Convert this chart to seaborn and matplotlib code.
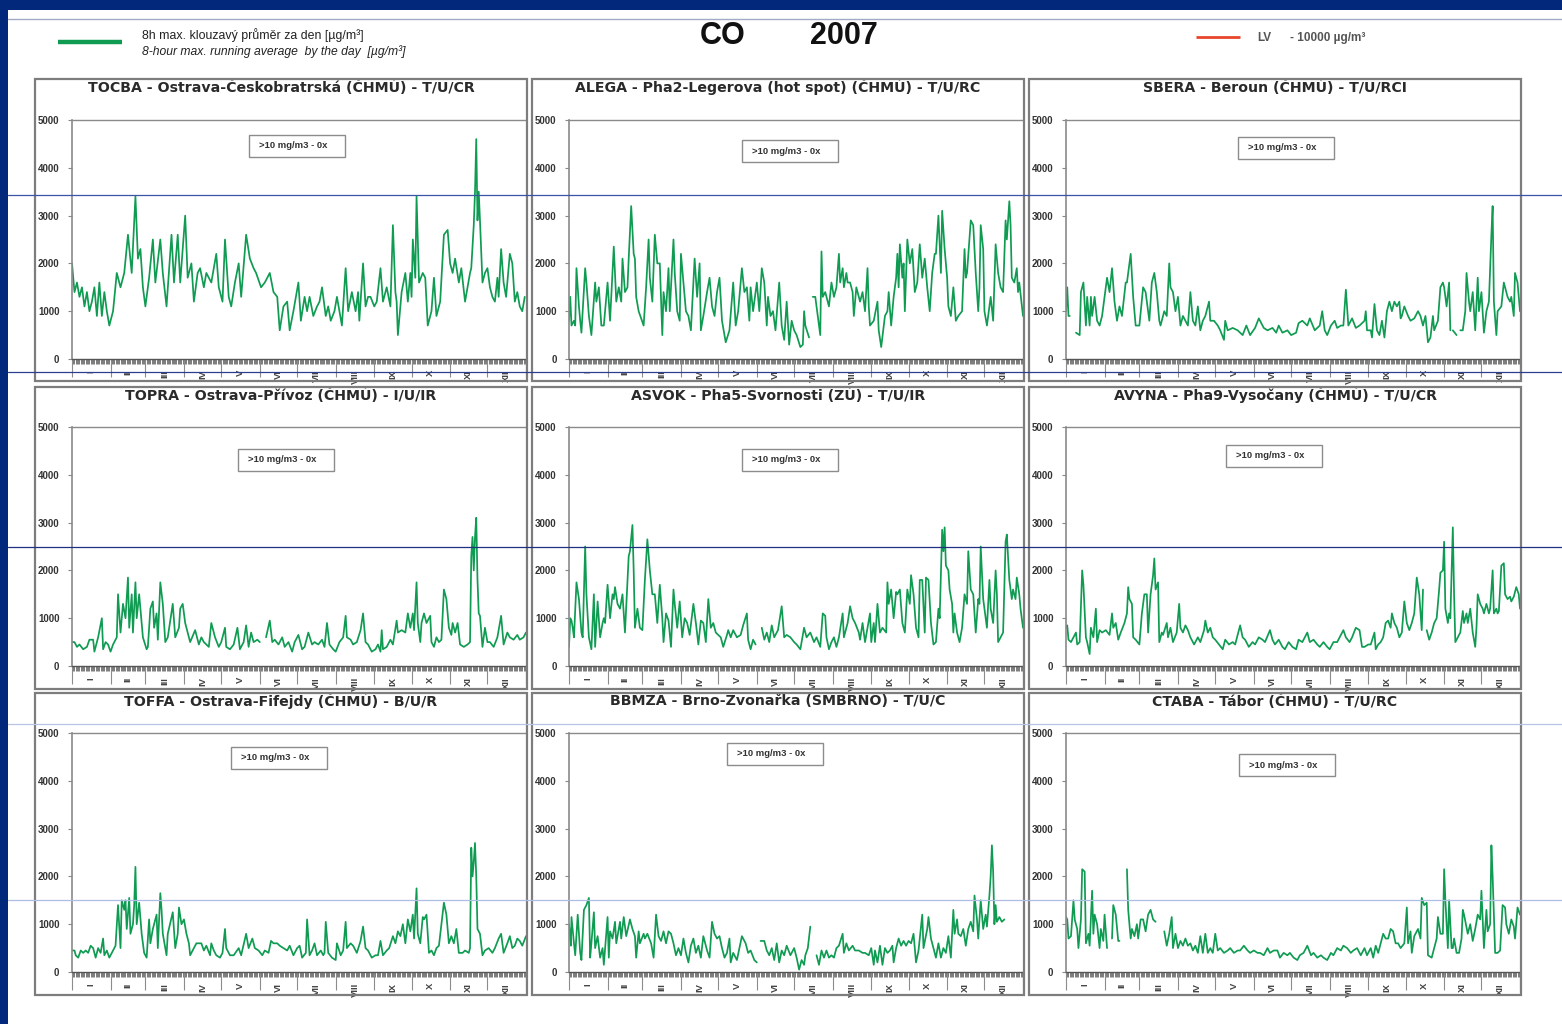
import numpy as np
import pandas as pd
import matplotlib
matplotlib.use("Agg")
import matplotlib.pyplot as plt
from matplotlib.patches import Rectangle
from matplotlib.lines import Line2D
from matplotlib.ticker import FixedLocator, NullFormatter
import seaborn as sns

sns.set_style("white")
plt.rcParams["font.family"] = ["Liberation Sans", "DejaVu Sans"]

# Daily 8h max running average of CO, 2007, mg/m3 (None = missing data)
TOCBA = [(0,2.0),(2,1.4),(4,1.6),(6,1.3),(8,1.5),(10,1.1),(12,1.4),(14,1.0),(16,1.2),(18,1.5),(20,0.9),(22,1.6),(24,0.9),(26,1.4),(28,1.0),(30,0.7),(33,1.0),(36,1.8),(39,1.5),(42,1.8),(45,2.6),(48,1.8),(51,3.4),(53,2.1),(55,2.3),(57,1.5),(59,1.1),(62,1.7),(65,2.5),(67,1.6),(71,2.5),(73,1.8),(76,1.1),(80,2.6),(82,1.6),(85,2.6),(87,1.6),(91,3.0),(93,1.7),(96,2.0),(98,1.2),(101,1.8),(103,1.9),(106,1.5),(108,1.8),(112,1.6),(116,2.2),(118,1.5),(121,1.2),(123,2.5),(126,1.3),(128,1.1),(131,1.6),(134,2.0),(136,1.3),(140,2.6),(143,2.1),(146,1.9),(148,1.8),(152,1.5),(155,1.6),(159,1.8),(162,1.4),(165,1.3),(167,0.6),(170,1.1),(173,1.2),(175,0.6),(178,1.0),(182,1.6),(184,0.8),(187,1.3),(189,1.0),(191,1.3),(194,0.9),(197,1.1),(199,1.2),(201,1.5),(204,0.9),(206,1.1),(208,0.8),(211,1.0),(213,1.3),(217,0.7),(220,1.9),(222,1.0),(225,1.4),(228,1.0),(230,1.4),(231,0.8),(234,2.0),(236,1.1),(238,1.3),(240,1.3),(243,1.1),(245,1.2),(248,1.9),(250,1.2),(253,1.5),(256,1.1),(258,2.8),(260,1.4),(261,1.2),(262,0.5),(265,1.4),(268,1.8),(270,1.2),(272,1.8),(273,1.3),(274,2.5),(276,1.7),(277,3.4),(279,1.6),(282,1.8),(284,1.7),(286,0.7),(289,1.0),(291,1.7),(293,0.9),(296,1.2),(299,2.6),(302,2.7),(304,2.0),(306,1.8),(308,2.1),(311,1.6),(313,1.9),(316,1.2),(318,1.5),(320,1.8),(321,1.9),(323,2.8),(324,3.5),(325,4.6),(326,2.9),(327,3.5),(328,2.9),(330,1.6),(332,1.8),(334,1.9),(336,1.5),(338,1.3),(340,1.2),(342,1.7),(343,1.3),(345,2.3),(347,1.6),(349,1.3),(352,2.2),(354,2.0),(356,1.2),(358,1.4),(360,1.1),(362,1.0),(364,1.3)]

ALEGA = [(0,0.8),(1,1.3),(2,0.7),(4,0.8),(5,0.7),(6,1.9),(8,1.1),(9,0.8),(10,0.55),(13,1.9),(14,1.6),(16,0.9),(18,0.5),(21,1.6),(22,1.2),(24,1.5),(26,0.7),(28,0.7),(31,1.6),(33,0.8),(36,2.35),(38,1.2),(40,1.5),(42,1.2),(43,2.1),(45,1.4),(47,1.5),(48,2.1),(50,3.2),(52,2.2),(53,2.1),(54,1.3),(56,1.0),(60,0.7),(62,1.5),(63,2.0),(64,2.5),(65,1.7),(67,1.2),(69,2.6),(71,2.0),(73,2.0),(75,0.5),(76,1.4),(78,1.0),(80,1.9),(81,1.0),(84,2.5),(85,1.8),(87,1.0),(89,0.8),(90,2.2),(92,1.6),(94,1.0),(96,0.9),(98,0.6),(101,2.1),(103,1.3),(105,2.0),(106,0.6),(108,0.9),(111,1.4),(113,1.7),(115,1.1),(117,0.9),(119,1.4),(121,1.7),(123,0.8),(126,0.35),(129,0.6),(132,1.6),(134,0.7),(136,1.0),(139,1.9),(141,1.4),(143,1.5),(145,0.8),(146,1.5),(148,1.0),(151,1.6),(153,1.0),(155,1.9),(157,1.6),(159,0.7),(160,1.3),(162,0.9),(164,1.0),(166,0.6),(169,1.6),(171,0.7),(173,0.4),(175,1.2),(177,0.3),(179,0.8),(181,0.6),(183,0.5),(186,0.25),(188,0.3),(189,1.0),(190,0.7),(193,0.45),(194,None),(196,1.3),(198,1.3),(200,0.9),(202,0.5),(203,2.25),(204,1.3),(206,1.4),(209,1.1),(211,1.6),(213,1.3),(215,1.5),(217,2.2),(218,1.6),(220,1.9),(221,1.5),(223,1.8),(224,1.6),(226,1.6),(228,1.4),(229,0.9),(231,1.5),(233,1.3),(234,1.2),(236,1.4),(238,1.0),(240,1.9),(241,1.1),(242,0.7),(245,0.8),(248,1.2),(249,0.6),(251,0.25),(254,0.9),(256,1.0),(257,1.4),(259,0.7),(261,1.3),(263,1.7),(264,2.2),(265,1.5),(266,2.4),(268,1.7),(269,2.0),(270,1.0),(272,2.5),(274,2.0),(276,2.3),(278,1.4),(280,1.6),(282,2.4),(284,1.7),(286,2.1),(288,1.5),(290,1.0),(292,1.8),(294,2.2),(295,2.2),(297,3.0),(299,1.8),(300,3.1),(302,2.3),(304,1.7),(305,1.1),(307,0.9),(309,1.5),(311,0.8),(313,0.9),(316,1.0),(318,2.3),(319,1.7),(320,1.8),(323,2.9),(325,2.8),(327,1.8),(329,1.0),(330,1.5),(331,2.8),(333,2.3),(334,1.0),(336,0.7),(339,1.3),(341,0.8),(343,2.4),(345,1.8),(347,1.5),(349,1.4),(351,2.9),(352,2.5),(354,3.3),(355,2.8),(356,1.7),(358,1.6),(360,1.9),(361,1.4),(362,1.6),(365,0.9)]

SBERA = [(0,1.0),(1,1.5),(2,0.9),(3,0.9),(4,None),(8,0.55),(11,0.5),(12,1.4),(14,1.6),(16,0.7),(17,1.3),(19,0.7),(20,1.3),(21,0.9),(23,1.3),(25,0.8),(27,0.7),(29,0.9),(33,1.7),(35,1.4),(37,1.9),(39,1.2),(41,0.8),(43,1.1),(45,0.9),(48,1.6),(49,1.6),(52,2.2),(54,1.3),(56,0.7),(59,0.7),(62,1.5),(64,1.4),(67,0.8),(69,1.6),(71,1.8),(73,1.4),(75,0.8),(76,0.7),(79,1.0),(81,0.9),(83,2.0),(84,1.5),(86,1.4),(88,1.0),(90,1.3),(92,0.7),(94,0.9),(96,0.8),(98,0.7),(100,1.4),(102,0.8),(104,0.7),(106,1.1),(108,0.6),(110,0.8),(112,0.9),(115,1.2),(116,0.8),(119,0.8),(122,0.7),(124,0.6),(127,0.4),(128,0.8),(130,0.6),(134,0.65),(138,0.6),(142,0.5),(145,0.7),(148,0.5),(152,0.65),(155,0.85),(159,0.65),(162,0.6),(166,0.65),(169,0.55),(171,0.7),(174,0.55),(178,0.6),(181,0.5),(185,0.55),(187,0.75),(190,0.8),(194,0.7),(196,0.85),(200,0.6),(204,0.7),(206,1.0),(208,0.6),(210,0.5),(213,0.7),(216,0.8),(218,0.65),(221,0.7),(223,0.7),(225,1.45),(227,0.7),(230,0.85),(233,0.65),(236,0.7),(240,0.8),(241,1.0),(242,0.6),(245,0.6),(246,0.45),(248,1.15),(250,0.6),(252,0.5),(254,0.8),(256,0.45),(258,1.0),(260,1.2),(262,1.0),(264,1.2),(266,1.1),(268,1.2),(269,0.85),(270,0.9),(272,1.1),(275,0.9),(277,0.8),(280,0.85),(283,1.0),(285,0.9),(287,0.7),(289,0.9),(291,0.35),(293,0.45),(295,0.9),(296,0.6),(299,0.8),(301,1.5),(303,1.6),(304,1.5),(306,1.1),(308,1.6),(309,0.6),(310,None),(311,0.6),(314,0.5),(315,None),(317,0.6),(319,0.6),(321,1.0),(322,1.8),(324,1.2),(325,1.0),(327,1.4),(329,0.6),(331,1.7),(332,1.0),(334,1.4),(336,0.55),(338,1.0),(340,1.2),(342,2.6),(343,3.2),(344,1.2),(346,0.5),(347,1.0),(350,1.1),(352,1.6),(354,1.4),(355,1.3),(357,1.2),(358,1.3),(360,0.9),(361,1.8),(363,1.6),(365,1.0)]

TOPRA = [(0,0.5),(2,0.5),(4,0.4),(6,0.45),(9,0.35),(12,0.4),(14,0.55),(17,0.55),(18,0.3),(21,0.6),(24,1.0),(25,0.35),(27,0.5),(29,0.45),(31,0.3),(33,0.45),(36,0.6),(37,1.5),(39,0.7),(41,1.3),(43,1.0),(45,1.85),(46,0.8),(48,1.5),(49,0.7),(51,1.75),(52,1.0),(54,1.5),(55,1.2),(57,0.6),(60,0.35),(61,0.4),(63,1.2),(65,1.35),(66,0.8),(68,1.1),(69,0.55),(71,1.75),(73,1.3),(75,0.5),(77,0.6),(81,1.3),(83,0.6),(86,0.8),(87,1.2),(89,1.3),(91,0.9),(93,0.7),(95,0.5),(99,0.75),(102,0.45),(104,0.6),(106,0.5),(110,0.4),(112,0.9),(115,0.6),(118,0.4),(120,0.5),(123,0.8),(124,0.4),(127,0.35),(130,0.45),(133,0.8),(135,0.35),(138,0.5),(140,0.85),(142,0.4),(144,0.7),(146,0.5),(149,0.55),(151,0.5),(152,None),(156,0.6),(159,0.95),(161,0.5),(163,0.55),(166,0.45),(169,0.6),(171,0.4),(174,0.5),(177,0.3),(179,0.5),(182,0.65),(185,0.35),(187,0.4),(190,0.7),(193,0.45),(195,0.5),(198,0.45),(201,0.55),(203,0.4),(205,0.9),(207,0.45),(210,0.35),(212,0.3),(215,0.5),(218,0.6),(220,1.05),(221,0.6),(224,0.55),(226,0.45),(229,0.5),(232,0.75),(234,1.1),(236,0.5),(238,0.45),(241,0.3),(244,0.35),(246,0.45),(248,0.3),(249,0.75),(250,0.35),(253,0.4),(256,0.55),(258,0.45),(261,0.95),(262,0.7),(265,0.75),(268,0.7),(270,1.1),(272,0.8),(274,1.1),(275,0.75),(277,1.75),(278,0.9),(280,0.5),(281,0.9),(283,1.1),(285,0.9),(288,1.05),(289,0.5),(291,0.4),(293,0.6),(295,0.5),(297,0.55),(299,1.6),(301,1.4),(303,0.8),(305,0.65),(306,0.9),(308,0.7),(310,0.9),(312,0.45),(315,0.4),(318,0.45),(320,0.5),(321,2.3),(322,2.7),(323,2.0),(324,2.7),(325,3.1),(326,1.8),(327,1.1),(328,1.05),(330,0.4),(332,0.8),(334,0.5),(336,0.5),(339,0.4),(342,0.6),(345,1.05),(347,0.45),(350,0.7),(352,0.6),(355,0.55),(358,0.65),(360,0.55),(363,0.6),(365,0.7)]

ASVOK = [(0,0.4),(1,1.0),(2,0.95),(3,0.8),(4,0.6),(6,1.75),(8,1.4),(10,0.7),(11,0.6),(13,2.5),(14,1.5),(16,0.6),(18,0.35),(20,1.5),(21,0.4),(23,1.35),(25,0.6),(27,0.9),(28,1.0),(29,0.9),(31,1.7),(33,1.0),(35,1.5),(36,1.4),(37,1.65),(39,1.3),(41,1.2),(43,1.5),(45,0.7),(48,2.3),(49,2.4),(51,2.95),(52,2.0),(53,0.8),(55,1.2),(57,0.8),(59,0.75),(61,1.8),(63,2.65),(65,2.0),(67,1.5),(69,1.5),(71,0.9),(73,1.7),(75,1.0),(76,0.5),(78,1.1),(80,0.95),(82,0.4),(84,1.6),(85,1.3),(87,0.8),(89,1.35),(91,0.6),(93,1.0),(95,0.9),(97,0.65),(100,1.3),(102,0.9),(104,0.45),(106,0.95),(108,0.9),(110,0.5),(112,1.4),(114,0.8),(116,0.9),(118,0.7),(122,0.6),(124,0.4),(127,0.65),(128,0.75),(130,0.6),(132,0.75),(135,0.6),(138,0.65),(140,0.85),(143,1.1),(144,0.55),(146,0.35),(148,0.55),(150,0.45),(151,None),(155,0.8),(157,0.55),(159,0.7),(161,0.5),(163,0.85),(165,0.6),(168,0.75),(171,1.25),(173,0.6),(175,0.65),(178,0.6),(181,0.5),(183,0.45),(186,0.35),(189,0.8),(191,0.6),(194,0.7),(197,0.5),(199,0.6),(202,0.4),(204,1.1),(206,1.05),(207,0.6),(209,0.35),(211,0.5),(213,0.6),(215,0.4),(217,0.6),(220,1.1),(221,0.6),(224,0.9),(226,1.25),(228,1.0),(230,0.9),(233,0.7),(234,0.55),(236,0.9),(238,0.5),(240,0.8),(242,1.1),(243,0.5),(245,0.9),(246,0.5),(248,1.3),(250,0.7),(252,0.8),(255,0.7),(256,1.75),(257,1.3),(259,1.6),(261,1.0),(263,1.55),(264,1.5),(266,1.6),(268,0.9),(270,0.7),(272,1.6),(274,1.3),(275,1.9),(277,1.5),(279,0.8),(281,0.6),(282,1.8),(284,1.8),(286,0.7),(287,1.85),(289,1.8),(291,0.9),(293,0.45),(295,0.5),(297,1.2),(298,1.0),(300,2.85),(301,2.4),(302,2.9),(303,2.1),(305,2.0),(306,1.6),(308,1.3),(309,0.7),(310,1.1),(312,0.7),(314,0.5),(316,0.8),(318,1.5),(320,1.3),(321,2.4),(323,1.6),(325,1.5),(327,0.7),(329,1.4),(330,1.3),(331,2.5),(333,1.4),(335,1.0),(336,0.8),(338,1.8),(339,1.2),(341,0.9),(343,2.0),(344,1.5),(345,0.5),(347,0.6),(349,0.7),(351,2.6),(352,2.75),(354,1.8),(356,1.4),(357,1.6),(359,1.4),(360,1.85),(362,1.5),(363,1.2),(365,0.8)]

AVYNA = [(0,0.8),(1,0.85),(2,0.55),(4,0.5),(6,0.6),(8,0.7),(9,0.45),(11,0.5),(13,2.0),(14,1.7),(16,0.6),(17,0.5),(19,0.25),(20,0.8),(22,0.6),(24,1.2),(25,0.5),(27,0.75),(29,0.7),(32,0.75),(35,0.65),(37,1.1),(38,0.8),(40,0.9),(42,0.55),(44,0.7),(47,0.9),(49,1.1),(50,1.65),(51,1.4),(53,1.3),(54,0.6),(56,0.55),(59,0.45),(61,1.1),(63,1.5),(65,1.5),(66,0.7),(68,1.5),(70,1.9),(71,2.25),(72,1.6),(74,1.75),(75,0.5),(77,0.7),(78,0.65),(81,0.9),(82,0.6),(84,0.8),(86,0.5),(89,0.7),(91,1.3),(92,0.8),(94,0.7),(96,0.85),(98,0.75),(100,0.6),(103,0.45),(106,0.6),(108,0.5),(111,0.75),(112,0.95),(114,0.7),(116,0.8),(118,0.6),(120,0.55),(123,0.45),(126,0.35),(128,0.55),(131,0.45),(134,0.5),(136,0.45),(140,0.85),(142,0.6),(144,0.55),(147,0.4),(150,0.5),(152,0.45),(155,0.6),(158,0.55),(160,0.5),(164,0.75),(166,0.55),(168,0.45),(171,0.55),(174,0.4),(176,0.35),(179,0.5),(182,0.4),(185,0.35),(187,0.55),(190,0.5),(194,0.7),(196,0.5),(199,0.55),(202,0.45),(204,0.4),(207,0.5),(210,0.4),(212,0.35),(215,0.5),(218,0.5),(220,0.6),(223,0.75),(225,0.6),(228,0.5),(230,0.6),(233,0.8),(236,0.75),(238,0.4),(240,0.4),(243,0.45),(245,0.45),(248,0.7),(249,0.35),(251,0.45),(253,0.5),(255,0.6),(257,0.9),(259,0.95),(261,0.8),(262,1.1),(264,0.9),(266,0.8),(268,0.6),(270,0.7),(272,1.35),(274,0.9),(276,0.75),(278,0.9),(280,1.1),(282,1.85),(284,1.5),(286,0.75),(287,1.6),(288,None),(290,0.75),(292,0.55),(294,0.7),(296,0.9),(298,1.0),(300,1.6),(301,1.95),(303,2.0),(304,2.6),(305,1.2),(307,0.9),(308,1.1),(309,1.0),(311,2.9),(312,1.5),(313,0.5),(315,0.6),(317,0.7),(319,1.15),(320,0.9),(322,1.1),(323,0.9),(325,1.2),(327,0.7),(329,0.4),(330,0.8),(331,1.5),(333,1.3),(335,1.2),(336,1.1),(338,1.3),(340,1.1),(341,1.2),(343,2.0),(344,1.1),(346,1.2),(347,1.1),(348,1.15),(350,2.1),(352,2.15),(353,1.5),(355,1.4),(357,1.45),(358,1.35),(360,1.45),(362,1.65),(364,1.5),(365,1.2)]

TOFFA = [(0,0.45),(2,0.45),(3,0.35),(5,0.3),(7,0.45),(9,0.4),(11,0.45),(13,0.4),(15,0.55),(17,0.5),(19,0.3),(21,0.5),(23,0.4),(25,0.7),(26,0.35),(28,0.45),(30,0.3),(33,0.45),(35,0.55),(37,1.4),(39,0.5),(40,1.5),(42,1.3),(43,1.5),(44,0.9),(46,1.55),(47,0.8),(49,1.0),(50,1.4),(51,2.2),(52,1.0),(54,1.45),(56,0.8),(58,0.4),(60,0.3),(62,1.1),(63,0.6),(65,0.9),(68,1.2),(69,0.5),(71,1.65),(72,1.3),(73,0.8),(76,0.35),(77,0.8),(81,1.25),(83,0.5),(85,0.8),(86,1.35),(88,1.0),(90,1.1),(92,0.8),(94,0.6),(95,0.35),(98,0.5),(100,0.6),(104,0.6),(106,0.45),(108,0.55),(111,0.35),(112,0.6),(114,0.45),(116,0.35),(119,0.3),(121,0.4),(123,0.9),(124,0.5),(127,0.35),(130,0.35),(134,0.5),(136,0.35),(140,0.8),(142,0.5),(145,0.7),(147,0.5),(150,0.45),(153,0.35),(155,0.45),(158,0.4),(160,0.65),(162,0.6),(165,0.6),(167,0.55),(170,0.5),(173,0.45),(175,0.55),(178,0.35),(181,0.5),(183,0.55),(185,0.3),(188,0.4),(189,1.1),(191,0.35),(193,0.45),(195,0.6),(197,0.35),(200,0.45),(202,0.35),(203,0.4),(204,1.05),(206,0.4),(209,0.3),(212,0.25),(213,0.6),(216,0.35),(218,0.45),(220,1.05),(221,0.5),(224,0.6),(226,0.55),(229,0.4),(232,0.65),(234,0.95),(236,0.5),(238,0.45),(241,0.3),(244,0.35),(246,0.35),(248,0.65),(250,0.35),(253,0.45),(255,0.5),(258,0.75),(260,0.6),(262,0.85),(264,0.75),(266,1.0),(268,0.6),(270,1.1),(272,0.85),(274,1.2),(275,0.7),(277,1.75),(278,0.8),(280,0.6),(282,1.15),(283,1.1),(285,1.2),(287,0.4),(289,0.45),(291,0.35),(293,0.5),(295,0.55),(299,1.45),(301,1.2),(303,0.6),(305,0.75),(307,0.6),(309,0.9),(311,0.4),(314,0.4),(316,0.45),(319,0.4),(320,0.5),(321,2.6),(322,2.0),(323,2.3),(324,2.7),(325,2.0),(326,0.9),(328,0.8),(330,0.35),(332,0.45),(335,0.5),(338,0.4),(340,0.5),(343,0.7),(345,0.8),(347,0.4),(350,0.6),(352,0.75),(354,0.5),(356,0.55),(358,0.7),(360,0.65),(362,0.55),(365,0.75)]

BBMZA = [(0,1.0),(1,0.7),(1.5,0.55),(2,1.15),(4,0.6),(5,0.35),(7,1.2),(9,0.4),(10,0.25),(12,1.3),(14,1.4),(16,1.55),(17,0.3),(18,0.6),(20,1.25),(21,0.5),(23,0.75),(25,0.3),(27,0.5),(28,0.15),(31,1.15),(32,0.3),(33,0.85),(35,0.7),(37,1.05),(38,0.6),(41,1.05),(42,0.7),(44,1.15),(46,0.75),(49,1.1),(51,0.9),(53,0.75),(54,0.3),(56,0.85),(57,0.6),(60,0.8),(61,0.7),(63,0.8),(66,0.6),(68,0.3),(70,1.2),(72,0.75),(74,0.65),(76,0.85),(78,0.6),(80,0.85),(82,0.8),(84,0.6),(86,0.35),(88,0.5),(90,0.35),(92,0.7),(94,0.4),(96,0.2),(98,0.55),(100,0.7),(102,0.4),(104,0.55),(106,0.3),(108,0.75),(111,0.45),(113,0.3),(115,1.05),(117,0.8),(119,0.7),(121,0.75),(123,0.5),(125,0.3),(127,0.4),(129,0.7),(130,0.2),(132,0.4),(135,0.25),(137,0.5),(139,0.75),(142,0.6),(144,0.4),(146,0.45),(149,0.25),(151,0.2),(152,None),(154,0.65),(157,0.65),(159,0.45),(161,0.35),(163,0.5),(165,0.25),(167,0.6),(169,0.2),(171,0.45),(173,0.35),(175,0.55),(178,0.35),(181,0.5),(183,0.3),(185,0.05),(187,0.25),(189,0.15),(190,0.35),(192,0.5),(194,0.95),(195,None),(199,0.35),(201,0.15),(203,0.45),(205,0.3),(207,0.45),(209,0.3),(211,0.35),(213,0.3),(215,0.5),(217,0.55),(220,0.8),(221,0.4),(223,0.6),(225,0.45),(228,0.55),(230,0.45),(233,0.45),(236,0.4),(238,0.4),(241,0.35),(243,0.5),(245,0.15),(246,0.45),(248,0.2),(250,0.55),(252,0.15),(254,0.5),(256,0.4),(258,0.45),(260,0.55),(261,0.2),(263,0.5),(265,0.7),(267,0.55),(269,0.65),(271,0.55),(273,0.65),(275,0.6),(277,0.8),(279,0.2),(281,0.45),(282,0.7),(284,1.2),(285,0.5),(288,0.9),(289,1.15),(291,0.7),(293,0.5),(295,0.3),(297,0.6),(299,0.3),(301,0.5),(303,0.4),(305,0.75),(307,0.3),(309,1.3),(310,0.8),(312,1.1),(313,0.8),(315,0.75),(317,0.9),(319,0.55),(321,0.9),(323,1.05),(325,0.85),(326,1.6),(328,1.1),(329,0.7),(331,1.5),(333,0.9),(335,1.2),(336,0.95),(338,1.6),(339,2.0),(340,2.65),(341,2.1),(342,1.0),(343,1.4),(344,1.05),(346,1.15),(348,1.05),(350,1.1)]

CTABA = [(0,1.15),(1,1.1),(2,0.7),(4,0.75),(6,1.5),(7,1.1),(9,0.9),(10,0.5),(12,1.1),(13,2.15),(15,2.1),(16,0.6),(18,0.8),(19,0.55),(21,1.7),(22,0.8),(23,1.2),(25,1.0),(27,0.5),(28,0.9),(30,0.65),(31,1.2),(33,0.5),(34,None),(37,0.7),(38,1.4),(40,1.2),(42,0.65),(43,0.65),(44,None),(49,2.15),(50,1.3),(52,0.7),(53,0.9),(55,0.75),(57,1.0),(58,0.7),(60,1.1),(62,1.1),(64,0.85),(66,1.2),(68,1.3),(70,1.1),(72,1.05),(73,None),(79,0.85),(81,0.55),(83,0.8),(85,1.15),(86,0.5),(88,0.8),(90,0.5),(92,0.65),(94,0.55),(96,0.7),(98,0.55),(100,0.6),(102,0.45),(104,0.55),(106,0.4),(108,0.75),(110,0.4),(112,0.8),(114,0.4),(116,0.5),(118,0.4),(120,0.8),(122,0.45),(124,0.5),(127,0.4),(130,0.45),(132,0.5),(135,0.4),(138,0.45),(140,0.45),(143,0.55),(146,0.45),(148,0.4),(151,0.45),(154,0.4),(156,0.4),(159,0.35),(162,0.5),(164,0.4),(167,0.45),(170,0.45),(172,0.3),(175,0.4),(178,0.35),(180,0.4),(183,0.3),(186,0.25),(188,0.35),(191,0.4),(194,0.55),(197,0.35),(199,0.4),(202,0.3),(205,0.35),(207,0.3),(210,0.25),(213,0.4),(215,0.35),(218,0.5),(221,0.45),(223,0.55),(226,0.5),(229,0.4),(231,0.45),(234,0.5),(237,0.35),(240,0.5),(242,0.35),(245,0.5),(247,0.3),(249,0.55),(251,0.4),(253,0.6),(255,0.8),(257,0.7),(259,0.7),(261,0.9),(263,0.85),(265,0.6),(267,0.6),(269,0.5),(272,0.6),(274,1.35),(275,0.6),(277,0.85),(278,0.4),(280,0.75),(283,0.9),(285,0.7),(286,1.55),(288,1.4),(290,1.45),(291,0.35),(294,0.3),(296,0.5),(298,0.7),(299,1.15),(301,0.8),(303,0.8),(304,2.15),(305,1.5),(307,0.5),(308,1.5),(310,0.5),(311,0.5),(312,0.7),(314,0.4),(316,0.4),(318,0.7),(319,1.3),(320,1.2),(323,0.8),(325,1.0),(327,0.65),(329,0.9),(331,1.2),(333,1.1),(334,1.7),(336,0.5),(338,1.3),(339,0.85),(341,1.0),(342,2.65),(343,2.0),(345,0.4),(347,0.4),(349,0.45),(351,1.4),(353,1.35),(354,1.0),(356,0.8),(358,1.1),(360,0.95),(361,0.7),(363,1.35),(365,1.2)]

STATION_TITLES = [
    "TOCBA - Ostrava-Českobratrská (ČHMÚ) - T/U/CR",
    "ALEGA - Pha2-Legerova (hot spot) (ČHMÚ) - T/U/RC",
    "SBERA - Beroun (ČHMÚ) - T/U/RCI",
    "TOPRA - Ostrava-Přívoz (ČHMÚ) - I/U/IR",
    "ASVOK - Pha5-Svornosti (ZÚ) - T/U/IR",
    "AVYNA - Pha9-Vysočany (ČHMÚ) - T/U/CR",
    "TOFFA - Ostrava-Fifejdy (ČHMÚ) - B/U/R",
    "BBMZA - Brno-Zvonařka (SMBRNO) - T/U/C",
    "CTABA - Tábor (ČHMÚ) - T/U/RC",
]
STATION_SERIES = [TOCBA, ALEGA, SBERA, TOPRA, ASVOK, AVYNA, TOFFA, BBMZA, CTABA]
EXCEEDANCE_TEXT = ">10 mg/m3 - 0x"

MONTHS = ["I", "II", "III", "IV", "V", "VI", "VII", "VIII", "IX", "X", "XI", "XII"]
MONTH_LENGTHS = [31, 28, 31, 30, 31, 30, 31, 31, 30, 31, 30, 31]
Y_TICKS = [0, 1000, 2000, 3000, 4000, 5000]

# ---- layout (pixels of a 1562 x 1024 canvas) ----
W, H = 1562, 1024
NAVY = "#01287a"
GREEN = "#0f9b52"
RED = "#e8452c"
FRAME = "#7d7d7d"

COL_X = [35, 532, 1029]
ROW_Y = [79, 387, 693]
PANEL_W, PANEL_H = 492, 302
BOX_POS = [(214, 56), (210, 61), (209, 58), (203, 62), (210, 62), (197, 58),
           (196, 54), (195, 50), (210, 61)]
BOX_W, BOX_H = 96, 22


def fx(x):
    return x / W


def fy(y):
    return 1 - y / H


def to_frame(pairs):
    day = np.array([p[0] for p in pairs], dtype=float)
    ug = np.array([np.nan if p[1] is None else p[1] * 1000.0 for p in pairs])
    seg = np.cumsum(np.isnan(ug))
    return pd.DataFrame({"day": day, "co": ug, "seg": seg}).dropna()


fig = plt.figure(figsize=(W / 100, H / 100), dpi=100)
fig.patch.set_facecolor("white")

# slide frame
fig.add_artist(Rectangle((0, fy(10)), 1, 10 / H, transform=fig.transFigure,
                         facecolor=NAVY, edgecolor="none", zorder=0))
fig.add_artist(Rectangle((0, 0), fx(8), 1, transform=fig.transFigure,
                         facecolor=NAVY, edgecolor="none", zorder=0))
fig.add_artist(Line2D([fx(8), 1], [fy(19), fy(19)], transform=fig.transFigure,
                      color="#a3abc4", lw=1.0, zorder=0))

# header
fig.add_artist(Line2D([fx(58), fx(122)], [fy(42), fy(42)], transform=fig.transFigure,
                      color=GREEN, lw=3.2, solid_capstyle="butt"))
fig.text(fx(142), fy(35), "8h max. klouzavý průměr za den [µg/m³]", fontsize=8.9,
         color="#222222", ha="left", va="center")
fig.text(fx(142), fy(52), "8-hour max. running average  by the day  [µg/m³]", fontsize=8.7,
         style="italic", color="#222222", ha="left", va="center")
fig.text(fx(700), fy(36), "CO", fontsize=22, fontweight="bold", color="#111111",
         ha="left", va="center")
fig.text(fx(810), fy(36), "2007", fontsize=22, fontweight="bold", color="#111111",
         ha="left", va="center")
fig.add_artist(Line2D([fx(1196), fx(1240)], [fy(37), fy(37)], transform=fig.transFigure,
                      color=RED, lw=2.0, solid_capstyle="butt"))
fig.text(fx(1257), fy(38), "LV", fontsize=8.5, fontweight="bold",
         color="#555555", ha="left", va="center")
fig.text(fx(1290), fy(38), "- 10000 µg/m³", fontsize=8.5, fontweight="bold",
         color="#555555", ha="left", va="center")

month_edges = np.concatenate([[0], np.cumsum(MONTH_LENGTHS)])
month_mid = (month_edges[:-1] + month_edges[1:]) / 2

for i, (title, series) in enumerate(zip(STATION_TITLES, STATION_SERIES)):
    r, c = divmod(i, 3)
    px, py = COL_X[c], ROW_Y[r]
    top = py + (41 if r == 0 else 40)
    ax = fig.add_axes([fx(px + 37), fy(top + 239), 454 / W, 239 / H])

    df = to_frame(series)
    sns.lineplot(data=df, x="day", y="co", units="seg", estimator=None,
                 color=GREEN, lw=1.25, ax=ax, legend=False)

    ax.set_xlim(0, 365)
    ax.set_ylim(0, 5000)
    ax.set_xlabel("")
    ax.set_ylabel("")
    ax.set_facecolor("none")
    ax.spines["right"].set_visible(False)
    ax.spines["left"].set_color("#8a8a8a")
    ax.spines["left"].set_linewidth(1.2)
    ax.spines["top"].set_color("#8a8a8a")
    ax.spines["top"].set_linewidth(1.0)
    ax.spines["bottom"].set_color("#555555")
    ax.spines["bottom"].set_linewidth(1.0)

    ax.set_yticks(Y_TICKS)
    ax.set_yticklabels([str(v) for v in Y_TICKS], fontsize=7, fontweight="bold",
                       color="#333333")
    ax.tick_params(axis="y", direction="out", length=3, width=0.8, color="#888888",
                   pad=6, left=True)
    ax.xaxis.set_major_locator(FixedLocator(month_edges))
    ax.xaxis.set_major_formatter(NullFormatter())
    ax.xaxis.set_minor_locator(FixedLocator(np.arange(0, 366)))
    ax.tick_params(axis="x", which="major", direction="out", length=13, width=0.8,
                   color="#8c8c8c", bottom=True)
    ax.tick_params(axis="x", which="minor", direction="out", length=3.5, width=0.6,
                   color="#666666", bottom=True)
    for m, label in zip(month_mid, MONTHS):
        ax.text(m, -230, label, fontsize=6.8, fontweight="bold", color="#444444",
                rotation=90, ha="center", va="top", clip_on=False)

    # panel frame and title
    fig.add_artist(Rectangle((fx(px), fy(py + PANEL_H)), PANEL_W / W, PANEL_H / H,
                             transform=fig.transFigure, facecolor="none",
                             edgecolor=FRAME, lw=1.6, zorder=5))
    fig.text(fx(px + PANEL_W / 2), fy(py + 8), title, fontsize=10.2, fontweight="bold",
             family=["DejaVu Sans"], color="#2a2a2a", ha="center", va="center")

    # exceedance count box
    bx, by = BOX_POS[i]
    fig.add_artist(Rectangle((fx(px + bx), fy(py + by + BOX_H)), BOX_W / W, BOX_H / H,
                             transform=fig.transFigure, facecolor="white",
                             edgecolor="#8c8c8c", lw=1.0, zorder=6))
    fig.text(fx(px + bx + 10), fy(py + by + BOX_H / 2), EXCEEDANCE_TEXT, fontsize=6.8,
             fontweight="bold", color="#333333", ha="left", va="center", zorder=7)

# slide ruling lines across the sheet
for yy, col in [(195, "#3a54a8"), (372, "#2a3f8f"), (547, "#1f3280"),
                (724, "#b7c4e6"), (900, "#aebde4")]:
    fig.add_artist(Line2D([fx(8), 1], [fy(yy), fy(yy)], transform=fig.transFigure,
                          color=col, lw=0.9, zorder=20))

fig.savefig("out.png", dpi=100, facecolor="white")
